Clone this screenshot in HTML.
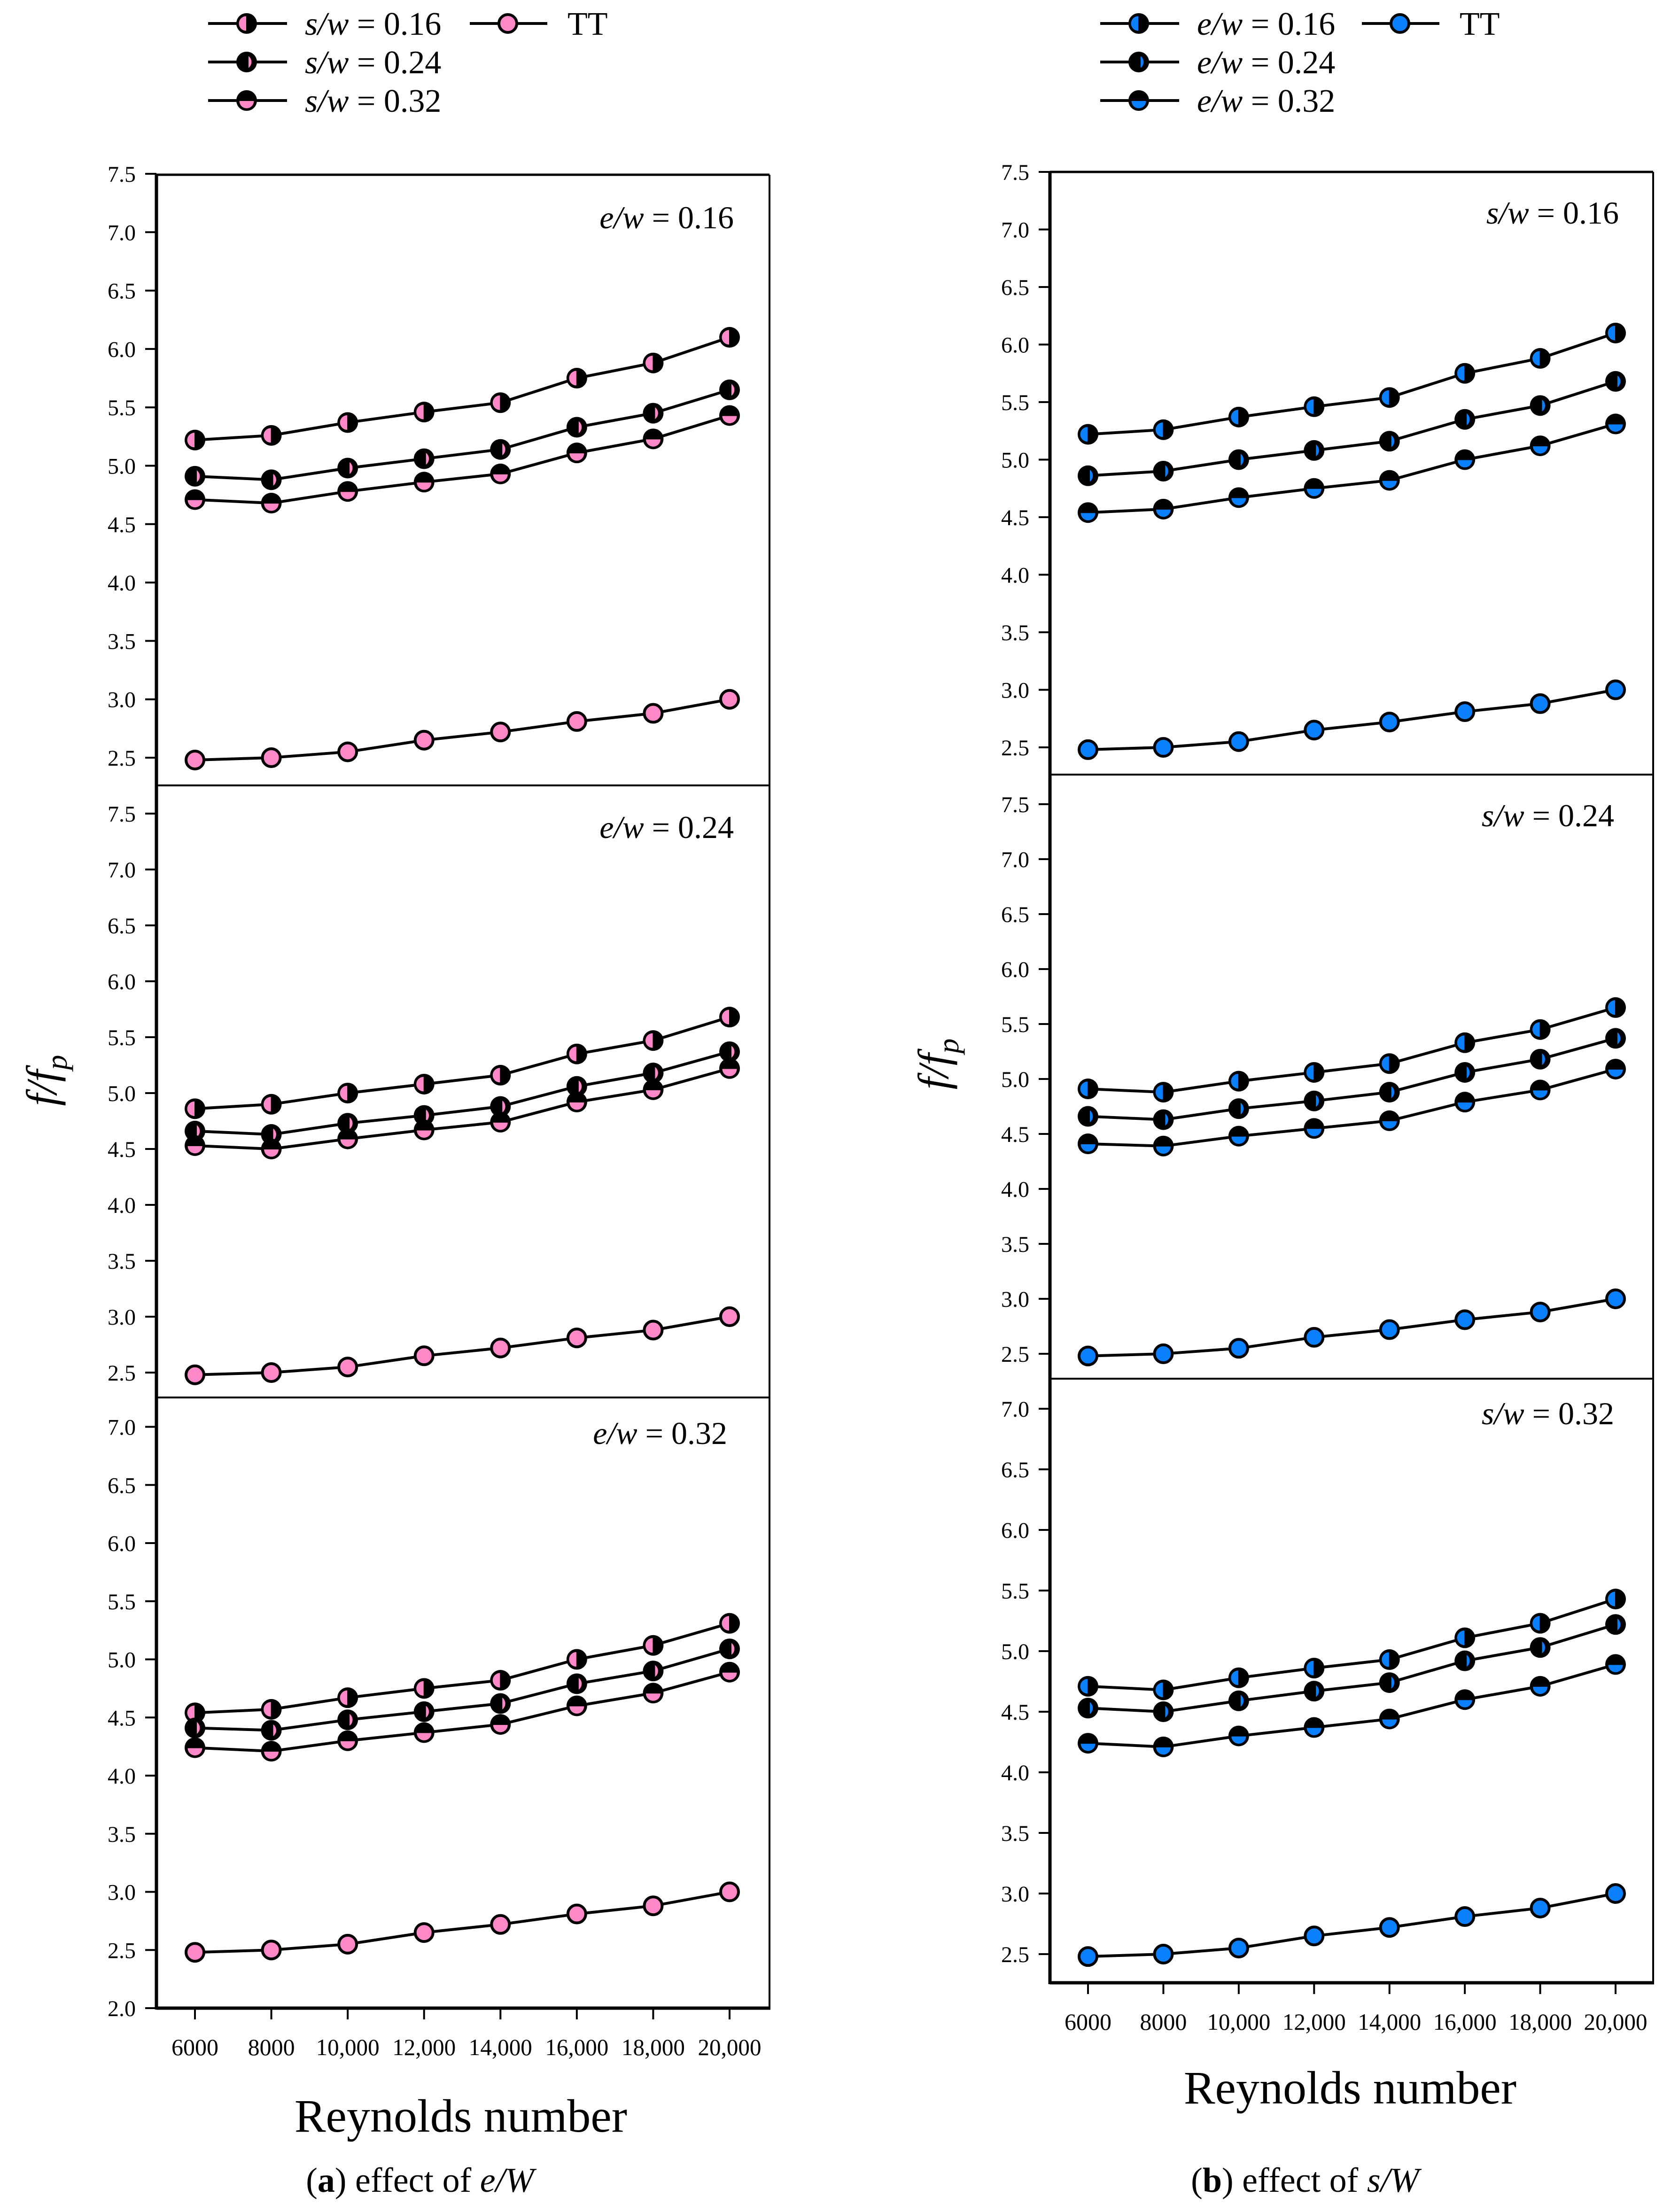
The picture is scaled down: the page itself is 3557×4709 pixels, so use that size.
<!DOCTYPE html>
<html><head><meta charset="utf-8"><style>
html,body{margin:0;padding:0;background:#fff;}
svg{display:block;font-family:"Liberation Serif",serif;}
</style></head><body>
<svg id="chart" width="3557" height="4709" viewBox="0 0 3557 4709" xmlns="http://www.w3.org/2000/svg"></svg>
<script>
const reynolds = [6000, 8000, 10000, 12000, 14000, 16000, 18000, 20000];
const xTickLabels = ["6000", "8000", "10,000", "12,000", "14,000", "16,000", "18,000", "20,000"];
const yTicks1 = [2.5, 3.0, 3.5, 4.0, 4.5, 5.0, 5.5, 6.0, 6.5, 7.0, 7.5];
const yTicks3Left = [2.0, 2.5, 3.0, 3.5, 4.0, 4.5, 5.0, 5.5, 6.0, 6.5, 7.0];
const yTicks3Right = [2.5, 3.0, 3.5, 4.0, 4.5, 5.0, 5.5, 6.0, 6.5, 7.0];
const ttValues = [2.48, 2.50, 2.55, 2.65, 2.72, 2.81, 2.88, 3.00];
const gridA = [5.22, 5.26, 5.37, 5.46, 5.54, 5.75, 5.88, 6.10];
const gridB = [4.91, 4.88, 4.98, 5.06, 5.14, 5.33, 5.45, 5.65];
const gridC = [4.71, 4.68, 4.78, 4.86, 4.93, 5.11, 5.23, 5.43];
const gridD = [4.86, 4.90, 5.00, 5.08, 5.16, 5.35, 5.47, 5.68];
const gridE = [4.66, 4.63, 4.73, 4.80, 4.88, 5.06, 5.18, 5.37];
const gridF = [4.53, 4.50, 4.59, 4.67, 4.74, 4.92, 5.03, 5.22];
const gridG = [4.54, 4.57, 4.67, 4.75, 4.82, 5.00, 5.12, 5.31];
const gridH = [4.41, 4.39, 4.48, 4.55, 4.62, 4.79, 4.90, 5.09];
const gridI = [4.24, 4.21, 4.30, 4.37, 4.44, 4.60, 4.71, 4.89];

const NS = "http://www.w3.org/2000/svg";
const svg = document.getElementById("chart");
function mk(tag, attrs, parent, text) {
  const e = document.createElementNS(NS, tag);
  for (const k in attrs) e.setAttribute(k, attrs[k]);
  if (text !== undefined) e.textContent = text;
  (parent || svg).appendChild(e);
  return e;
}
const PINK = "#ff88c8", BLUE = "#0a80ff";

function marker(g, cx, cy, type, color, name) {
  const m = mk("g", {}, g);
  
  
  if (type === "tt") {
    mk("circle", {cx, cy, r: 19, fill: color, stroke: "#000", "stroke-width": 6}, m);
    return;
  }
  mk("circle", {cx, cy, r: 22, fill: "#000"}, m);
  const r = 15.5;
  let d;
  if (type === "left") d = `M${cx-1} ${cy-r} A${r} ${r} 0 0 0 ${cx-1} ${cy+r} Z`;
  else if (type === "right") d = `M${cx+4} ${cy-r+3} A${r} ${r} 0 0 1 ${cx+4} ${cy+r-3} Z`;
  else d = `M${cx-r} ${cy+1} A${r} ${r} 0 0 0 ${cx+r} ${cy+1} Z`;
  mk("path", {d, fill: color}, m);
}

function panel(cfg) {
  const g = mk("g", {});
  
  
  const xs = v => cfg.x0 + (v - 6000) / 14000 * (cfg.x1 - cfg.x0);
  const ys = v => cfg.yRef - (v - cfg.vRef) * cfg.unit;
  mk("line", {x1: cfg.L, y1: cfg.top, x2: cfg.R, y2: cfg.top, stroke: "#000", "stroke-width": cfg.topW}, g);
  mk("line", {x1: cfg.R, y1: cfg.top, x2: cfg.R, y2: cfg.bot, stroke: "#000", "stroke-width": 4}, g);
  if (cfg.bottomAxis) mk("line", {x1: cfg.L, y1: cfg.bot, x2: cfg.R + 2, y2: cfg.bot, stroke: "#000", "stroke-width": 7}, g);
  mk("line", {x1: cfg.L, y1: cfg.top - 2, x2: cfg.L, y2: cfg.bot + 3, stroke: "#000", "stroke-width": 7}, g);
  const yt = mk("g", {}, g);
  
  
  cfg.ticks.forEach(t => {
    const y = ys(t);
    mk("line", {x1: cfg.L - 24, y1: y, x2: cfg.L, y2: y, stroke: "#000", "stroke-width": 4}, yt);
    mk("text", {x: cfg.L - 44, y: y + 17, "font-size": 48, "text-anchor": "end"}, yt, t.toFixed(1));
  });
  const lb = mk("text", {x: cfg.labelX, y: cfg.labelY, "font-size": 68, "text-anchor": "end"}, g);
  
  
  mk("tspan", {"font-style": "italic"}, lb, cfg.labelVar + "/w");
  mk("tspan", {}, lb, " = " + cfg.labelVal);
  cfg.series.forEach(s => {
    const sg = mk("g", {}, g);
    
    
    const pts = s.values.map((v, i) => xs(reynolds[i]) + "," + ys(v)).join(" ");
    mk("polyline", {points: pts, fill: "none", stroke: "#000", "stroke-width": 6}, sg);
    s.values.forEach((v, i) => marker(sg, xs(reynolds[i]), ys(v), s.type, cfg.color, s.name + "-point"));
  });
  if (cfg.bottomAxis) {
    const xt = mk("g", {}, g);
    
    
    reynolds.forEach((r, i) => {
      const x = xs(r);
      mk("line", {x1: x, y1: cfg.bot, x2: x, y2: cfg.bot + 24, stroke: "#000", "stroke-width": 4}, xt);
      const t = mk("text", {x: x, y: cfg.bot + 100, "font-size": 50, "text-anchor": "middle"}, xt, xTickLabels[i]);
      if (xTickLabels[i].length > 4) { t.setAttribute("textLength", 135); t.setAttribute("lengthAdjust", "spacingAndGlyphs"); }
    });
  }
}

function legend(ox, color, varName, name) {
  const g = mk("g", {});
  
  
  const rows = [["left", "0.16", 50], ["right", "0.24", 132], ["bottom", "0.32", 214]];
  rows.forEach(r => {
    const e = mk("g", {}, g);
    
    
    mk("line", {x1: ox, y1: r[2], x2: ox + 168, y2: r[2], stroke: "#000", "stroke-width": 6}, e);
    marker(e, ox + 82, r[2], r[0], color, "legend-marker");
    const t = mk("text", {x: ox + 206, y: r[2] + 24, "font-size": 70}, e);
    mk("tspan", {"font-style": "italic"}, t, varName + "/w");
    mk("tspan", {}, t, " = " + r[1]);
  });
  const e = mk("g", {}, g);
  
  
  mk("line", {x1: ox + 557, y1: 50, x2: ox + 722, y2: 50, stroke: "#000", "stroke-width": 6}, e);
  marker(e, ox + 638, 50, "tt", color, "legend-marker");
  mk("text", {x: ox + 765, y: 74, "font-size": 70}, e, "TT");
}

legend(443, PINK, "s", "legend-left");
const LX = {L: 333, R: 1638, x0: 415, x1: 1553, color: PINK};
panel(Object.assign({}, LX, {name: "panel-a1", top: 372, bot: 1672, topW: 5, yRef: 1613, vRef: 2.5, unit: 248.6, ticks: yTicks1,
  labelX: 1562, labelY: 486, labelVar: "e", labelVal: "0.16",
  series: [{name: "series-sw016", type: "left", values: gridA}, {name: "series-sw024", type: "right", values: gridB},
           {name: "series-sw032", type: "bottom", values: gridC}, {name: "series-tt", type: "tt", values: ttValues}]}));
panel(Object.assign({}, LX, {name: "panel-a2", top: 1672, bot: 2975, topW: 4, yRef: 2922, vRef: 2.5, unit: 238, ticks: yTicks1,
  labelX: 1562, labelY: 1784, labelVar: "e", labelVal: "0.24",
  series: [{name: "series-sw016", type: "left", values: gridD}, {name: "series-sw024", type: "right", values: gridE},
           {name: "series-sw032", type: "bottom", values: gridF}, {name: "series-tt", type: "tt", values: ttValues}]}));
panel(Object.assign({}, LX, {name: "panel-a3", top: 2975, bot: 4275, topW: 4, yRef: 4275, vRef: 2.0, unit: 247.5, ticks: yTicks3Left, bottomAxis: true,
  labelX: 1548, labelY: 3074, labelVar: "e", labelVal: "0.32",
  series: [{name: "series-sw016", type: "left", values: gridG}, {name: "series-sw024", type: "right", values: gridH},
           {name: "series-sw032", type: "bottom", values: gridI}, {name: "series-tt", type: "tt", values: ttValues}]}));

legend(2342, BLUE, "e", "legend-right");
const RX = {L: 2235, R: 3519, x0: 2316, x1: 3439, color: BLUE};
panel(Object.assign({}, RX, {name: "panel-b1", top: 366, bot: 1649, topW: 5, yRef: 1591, vRef: 2.5, unit: 245, ticks: yTicks1,
  labelX: 3446, labelY: 476, labelVar: "s", labelVal: "0.16",
  series: [{name: "series-ew016", type: "left", values: gridA}, {name: "series-ew024", type: "right", values: gridD},
           {name: "series-ew032", type: "bottom", values: gridG}, {name: "series-tt", type: "tt", values: ttValues}]}));
panel(Object.assign({}, RX, {name: "panel-b2", top: 1649, bot: 2935, topW: 4, yRef: 2882, vRef: 2.5, unit: 234, ticks: yTicks1,
  labelX: 3436, labelY: 1759, labelVar: "s", labelVal: "0.24",
  series: [{name: "series-ew016", type: "left", values: gridB}, {name: "series-ew024", type: "right", values: gridE},
           {name: "series-ew032", type: "bottom", values: gridH}, {name: "series-tt", type: "tt", values: ttValues}]}));
panel(Object.assign({}, RX, {name: "panel-b3", top: 2935, bot: 4221, topW: 4, yRef: 4160, vRef: 2.5, unit: 258, ticks: yTicks3Right, bottomAxis: true,
  labelX: 3436, labelY: 3032, labelVar: "s", labelVal: "0.32",
  series: [{name: "series-ew016", type: "left", values: gridC}, {name: "series-ew024", type: "right", values: gridF},
           {name: "series-ew032", type: "bottom", values: gridI}, {name: "series-tt", type: "tt", values: ttValues}]}));

function yTitle(x, y, name) {
  const t = mk("text", {x: 0, y: 0, "font-size": 92, "font-style": "italic", "text-anchor": "middle", transform: `translate(${x},${y}) rotate(-90)`});
  
  
  mk("tspan", {}, t, "f/f");
  mk("tspan", {"font-size": 64, dy: 22}, t, "p");
}
yTitle(120, 2300, "y-axis-title-left");
yTitle(2018, 2265, "y-axis-title-right");
function xTitle(x, y, name) {
  const t = mk("text", {x, y, "font-size": 100, "text-anchor": "middle"}, svg, "Reynolds number");
  
  
}
xTitle(981, 4538, "x-axis-title-left");
xTitle(2874, 4478, "x-axis-title-right");
function caption(x, letter, v, name) {
  const t = mk("text", {x, y: 4666, "font-size": 74, "text-anchor": "middle"});
  
  
  mk("tspan", {}, t, "(");
  mk("tspan", {"font-weight": "bold"}, t, letter);
  mk("tspan", {}, t, ") effect of ");
  mk("tspan", {"font-style": "italic"}, t, v + "/W");
}
caption(894, "a", "e", "caption-a");
caption(2778, "b", "s", "caption-b");
</script>
</body></html>
